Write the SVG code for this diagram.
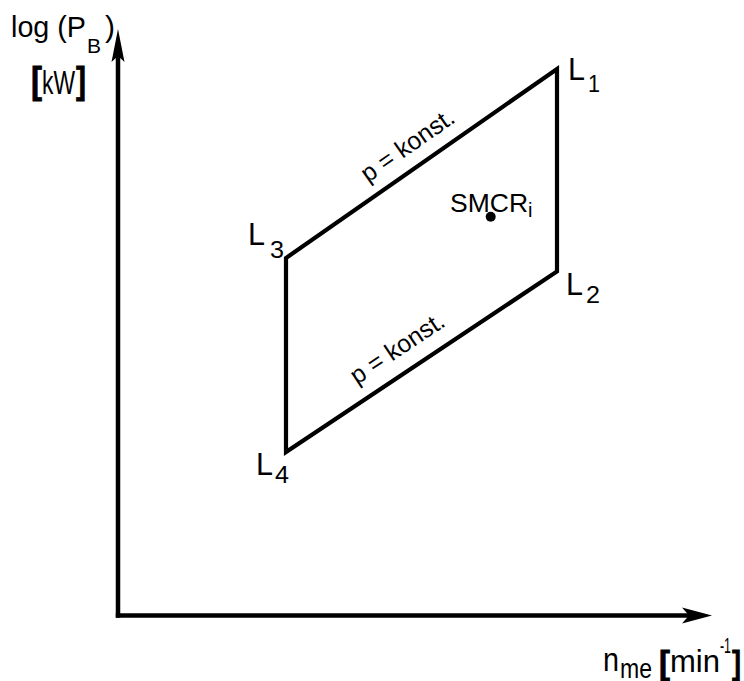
<svg xmlns="http://www.w3.org/2000/svg" width="744" height="681" viewBox="0 0 744 681">
<style>
text{font-family:"Liberation Sans",Arial,sans-serif;fill:#000}
.ax{stroke:#000;stroke-width:4.5;fill:none}
.pl{stroke:#000;stroke-width:4.2;fill:none;stroke-linejoin:miter}
.br{font-weight:bold;stroke:#000;stroke-width:0.8}
</style>
<rect width="744" height="681" fill="#fff"/>
<g id="axes">
<line class="ax" x1="118" y1="617.7" x2="118" y2="50"/>
<line class="ax" x1="115.8" y1="615.5" x2="695" y2="615.5"/>
<path d="M118,29 L124.5,62 L118,56 L111.5,62 Z" fill="#000"/>
<path d="M712,615.5 L682,607.5 L689,615.5 L682,623.5 Z" fill="#000"/>
</g>
<g id="ylabel">
<text x="11" y="37" font-size="30" textLength="75" lengthAdjust="spacingAndGlyphs">log (P</text>
<text x="87" y="53" font-size="21">B</text>
<text x="105" y="37" font-size="30">)</text>
<text class="br" x="31" y="93" font-size="37" textLength="11" lengthAdjust="spacingAndGlyphs">[</text>
<text x="42" y="94" font-size="33" textLength="33" lengthAdjust="spacingAndGlyphs">kW</text>
<text class="br" x="76" y="93" font-size="37" textLength="10" lengthAdjust="spacingAndGlyphs">]</text>
</g>
<g id="xlabel">
<text x="603" y="671" font-size="34" textLength="16" lengthAdjust="spacingAndGlyphs">n</text>
<text x="620" y="678" font-size="27" textLength="32" lengthAdjust="spacingAndGlyphs">me</text>
<text class="br" x="659" y="674" font-size="34" textLength="11" lengthAdjust="spacingAndGlyphs">[</text>
<text x="670" y="672" font-size="32" textLength="50" lengthAdjust="spacingAndGlyphs">min</text>
<text x="720" y="653" font-size="22" textLength="11" lengthAdjust="spacingAndGlyphs">-1</text>
<text class="br" x="732" y="674" font-size="34" textLength="9" lengthAdjust="spacingAndGlyphs">]</text>
</g>
<g id="field">
<path class="pl" d="M557,69 L557,271.5 L286,452 L286,258 Z"/>
</g>
<g id="L1">
<text x="568" y="80" font-size="32" textLength="17" lengthAdjust="spacingAndGlyphs">L</text>
<text x="588" y="92" font-size="24" textLength="12" lengthAdjust="spacingAndGlyphs">1</text>
</g>
<g id="L2">
<text x="566" y="295" font-size="32" textLength="17" lengthAdjust="spacingAndGlyphs">L</text>
<text x="586" y="303" font-size="24" textLength="14" lengthAdjust="spacingAndGlyphs">2</text>
</g>
<g id="L3">
<text x="248" y="245" font-size="32" textLength="17" lengthAdjust="spacingAndGlyphs">L</text>
<text x="270" y="258" font-size="24" textLength="14" lengthAdjust="spacingAndGlyphs">3</text>
</g>
<g id="L4">
<text x="256" y="475" font-size="32" textLength="17" lengthAdjust="spacingAndGlyphs">L</text>
<text x="275" y="483" font-size="24" textLength="14" lengthAdjust="spacingAndGlyphs">4</text>
</g>
<g id="SMCR">
<text x="450" y="212" font-size="26.5">SMCR</text>
<text x="528" y="217" font-size="20">i</text>
<circle cx="490.7" cy="216.7" r="5"/>
</g>
<g id="p-upper">
<text transform="translate(368,183) rotate(-34.9)" font-size="25" textLength="108" lengthAdjust="spacingAndGlyphs">p = konst.</text>
</g>
<g id="p-lower">
<text transform="translate(357,385) rotate(-33.7)" font-size="25" textLength="108" lengthAdjust="spacingAndGlyphs">p = konst.</text>
</g>
</svg>
